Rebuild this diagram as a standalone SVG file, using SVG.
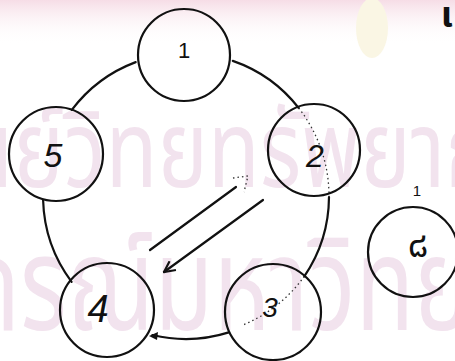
<svg xmlns="http://www.w3.org/2000/svg" width="455" height="361" viewBox="0 0 455 361">
<style>
.wm{font-family:"Noto Sans Thai","Noto Sans","DejaVu Sans",sans-serif;fill:#f2e3ee}
.ring{fill:none;stroke:#111;stroke-width:2.2}
.edge{fill:none;stroke:#111;stroke-width:2.2;stroke-linecap:round}
.dot{fill:none;stroke:#333;stroke-width:1.3;stroke-dasharray:1.5 3}
.lbl{font-family:"Liberation Sans",sans-serif;font-style:italic;fill:#111;text-anchor:middle}
.plain{font-family:"Liberation Sans","Noto Sans Thai",sans-serif;fill:#111;text-anchor:middle}
</style>
<defs>
<linearGradient id="top" x1="0" y1="0" x2="0" y2="1">
<stop offset="0" stop-color="#f6dde6"/><stop offset="1" stop-color="#fff" stop-opacity="0"/>
</linearGradient>
<marker id="open" viewBox="0 0 12 12" refX="11" refY="6" markerWidth="13" markerHeight="13" markerUnits="userSpaceOnUse" orient="auto">
<path d="M1,1 L11,6 L1,11" fill="none" stroke="#111" stroke-width="2"/>
</marker>
</defs>
<rect width="455" height="361" fill="#fff"/>
<rect x="0" y="0" width="455" height="45" fill="url(#top)"/>
<ellipse cx="372" cy="28" rx="16" ry="30" fill="#faf6e4"/>
<text class="wm" font-size="85" transform="translate(-92,187) scale(1,1.27)">ศูนย์วิทยทรัพยากร</text>
<text class="wm" font-size="96" transform="translate(-298,330) scale(1,1.36)">จุฬาลงกรณ์มหาวิทยาลัย</text>
<g id="connectors">
<path d="M232.8,60.9 A143,143 0 0 1 298.7,108" class="edge"/>
<path d="M329,197 A143,143 0 0 1 304.3,276.4" class="edge"/>
<path d="M228.8,332.4 A143,143 0 0 1 152.4,335" class="edge" stroke-width="3.5"/>
<path d="M158,332 L149,336 L157,340 Z" fill="#111"/>
<path d="M71.6,281.8 A143,143 0 0 1 43.1,200" class="edge"/>
<path d="M71.8,109.9 A143,143 0 0 1 135.7,62.1" class="edge"/>
<path d="M298.7,108 A143,143 0 0 1 329,197" class="dot"/>
<path d="M304.3,276.4 A143,143 0 0 1 243,325" class="dot"/>
<line x1="150" y1="250" x2="236" y2="187" class="edge"/>
<path d="M233,178 L248,176 L244,192" class="dot" stroke-width="1.7"/>
<line x1="263" y1="200" x2="164" y2="272" class="edge" marker-end="url(#open)"/>
</g>
<g id="n1"><circle cx="184" cy="55" r="46" class="ring"/><text class="plain" x="184" y="58" font-size="22">1</text></g>
<g id="n5"><circle cx="56" cy="154" r="47" class="ring"/><text class="lbl" x="53" y="167" font-size="34">5</text></g>
<g id="n2"><circle cx="314" cy="150" r="46" class="ring"/><text class="lbl" x="315" y="167" font-size="32">2</text></g>
<g id="n4"><circle cx="107" cy="310" r="47" class="ring"/><text class="lbl" x="98" y="322" font-size="38">4</text></g>
<g id="n3"><circle cx="273" cy="312" r="48" class="ring"/><text class="lbl" x="270" y="317" font-size="28">3</text></g>
<g id="n6"><circle cx="413" cy="252" r="45" class="ring"/><text class="plain" x="418" y="257" font-size="36">๘</text></g>
<text class="plain" x="417" y="196" font-size="15">1</text>
<text class="plain" x="447" y="27" font-size="36" font-weight="bold">เ</text>
</svg>
